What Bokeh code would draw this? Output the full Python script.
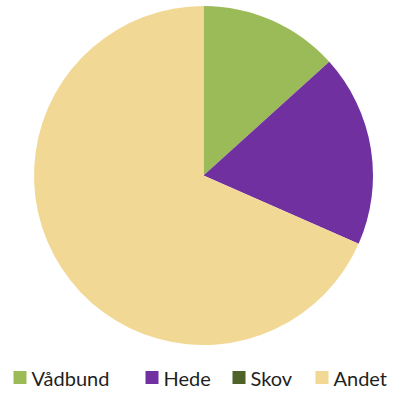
import math
from bokeh.plotting import figure
from bokeh.models import ColumnDataSource, Range1d
from bokeh.core.properties import value
from bokeh.embed import file_html
from bokeh.resources import INLINE

categories = ["Vådbund", "Hede", "Skov", "Andet"]
values = [13.3, 18.3, 0.0, 68.4]
colors = ["#9BBB59", "#7030A0", "#4F6228", "#F2D895"]

# legend layout (style): left edge of each legend square in pixels
legend_x = [13, 145, 232, 315]

W, H = 391, 388
p = figure(width=W, height=H, output_backend="svg", toolbar_location=None,
           x_range=Range1d(0, W), y_range=Range1d(0, H), min_border=0)
p.axis.visible = False
p.grid.visible = False
p.outline_line_color = None

total = sum(values)
angles = [v / total * 2 * math.pi for v in values]
# clockwise from 12 o'clock
starts, ends = [], []
cum = 0.0
for a in angles:
    ends.append(math.pi / 2 - cum)
    starts.append(math.pi / 2 - cum - a)
    cum += a

keep = [i for i, a in enumerate(angles) if a > 0]
src = ColumnDataSource(dict(
    start=[starts[i] for i in keep], end=[ends[i] for i in keep],
    color=[colors[i] for i in keep]))
cx, cy, r = 203, H - 175, 169.5
p.wedge(x=cx, y=cy, radius=r, start_angle="start", end_angle="end", source=src,
        fill_color="color", line_color=None, direction="anticlock")

# legend
sq = 13
ly = H - 377
leg = ColumnDataSource(dict(
    x=[x + sq / 2 for x in legend_x], y=[ly] * len(categories),
    tx=[x + sq + 5 for x in legend_x], color=colors, label=categories))
p.rect(x="x", y="y", width=sq, height=sq, source=leg, fill_color="color", line_color=None)
p.text(x="tx", y="y", text="label", source=leg, text_font=value("Lato"),
       text_font_size="20px", text_baseline="middle", text_color="#1f1f1f")

open("out.html", "w").write(file_html(p, INLINE))
